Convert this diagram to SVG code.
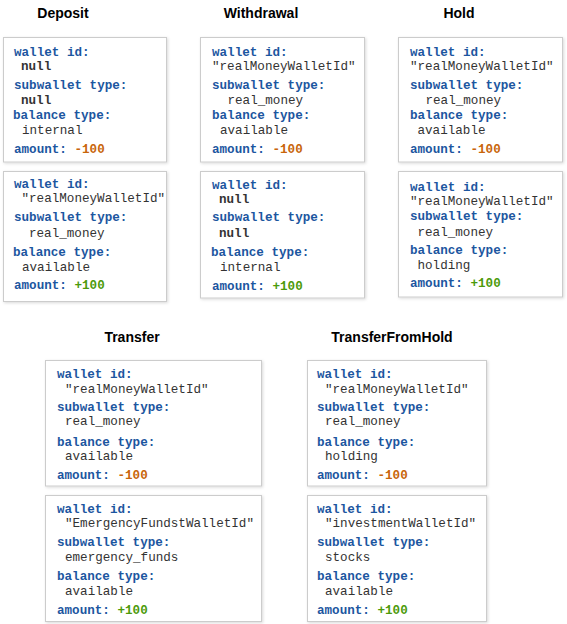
<svg xmlns="http://www.w3.org/2000/svg" width="567" height="624" viewBox="0 0 567 624">
<defs>
<filter id="sh" x="-10%" y="-10%" width="120%" height="120%">
<feDropShadow dx="1" dy="1" stdDeviation="1.5" flood-color="#000" flood-opacity="0.15"/>
</filter>
</defs>
<style>
.t{font-family:"Liberation Sans",Arial,sans-serif;font-weight:bold;font-size:14px;fill:#000;text-anchor:middle}
.box{fill:#fff;stroke:#cccccc;stroke-width:1;filter:url(#sh)}
.k{font-family:"Liberation Mono","Courier New",monospace;font-weight:bold;font-size:12.6px;fill:#1c56a0}
.v{font-family:"Liberation Mono","Courier New",monospace;font-size:12.6px;fill:#333}
.n{font-family:"Liberation Mono","Courier New",monospace;font-weight:bold;font-size:12.6px;fill:#333}
.neg{font-family:"Liberation Mono","Courier New",monospace;font-weight:bold;font-size:12.6px;fill:#c8650a}
.pos{font-family:"Liberation Mono","Courier New",monospace;font-weight:bold;font-size:12.6px;fill:#4c9a0a}
</style>
<g id="titles">
<text class="t" x="63" y="18">Deposit</text>
<text class="t" x="261" y="18">Withdrawal</text>
<text class="t" x="459" y="18">Hold</text>
<text class="t" x="132" y="342">Transfer</text>
<text class="t" x="392" y="342">TransferFromHold</text>
</g>
<g id="deposit-from">
<rect class="box" x="3.5" y="37.5" width="163" height="124.5"/>
<text class="k" x="14" y="55.5">wallet id:</text>
<text class="n" x="21" y="69.5">null</text>
<text class="k" x="14" y="88.5">subwallet type:</text>
<text class="n" x="21" y="103.5">null</text>
<text class="k" x="13" y="118.5">balance type:</text>
<text class="v" x="22" y="133.5">internal</text>
<text class="k" x="14" y="152.5">amount: <tspan class="neg">-100</tspan></text>
</g>
<g id="deposit-to">
<rect class="box" x="3.5" y="171.5" width="163" height="130"/>
<text class="k" x="14" y="187.5">wallet id:</text>
<text class="v" x="21.5" y="201.5">"realMoneyWalletId"</text>
<text class="k" x="14" y="220.5">subwallet type:</text>
<text class="v" x="29" y="236.5">real_money</text>
<text class="k" x="13" y="255.5">balance type:</text>
<text class="v" x="22" y="270.5">available</text>
<text class="k" x="14" y="288.5">amount: <tspan class="pos">+100</tspan></text>
</g>
<g id="withdrawal-from">
<rect class="box" x="200.5" y="37.5" width="164" height="124.5"/>
<text class="k" x="212" y="55.5">wallet id:</text>
<text class="v" x="212" y="69.5">"realMoneyWalletId"</text>
<text class="k" x="212" y="88.5">subwallet type:</text>
<text class="v" x="227.5" y="103.5">real_money</text>
<text class="k" x="212" y="118.5">balance type:</text>
<text class="v" x="220" y="133.5">available</text>
<text class="k" x="212" y="152.5">amount: <tspan class="neg">-100</tspan></text>
</g>
<g id="withdrawal-to">
<rect class="box" x="200.5" y="171.5" width="164" height="126.5"/>
<text class="k" x="212" y="188.5">wallet id:</text>
<text class="n" x="219" y="202.5">null</text>
<text class="k" x="212" y="220.5">subwallet type:</text>
<text class="n" x="219" y="236.5">null</text>
<text class="k" x="211" y="255.5">balance type:</text>
<text class="v" x="220" y="270.5">internal</text>
<text class="k" x="212" y="289.5">amount: <tspan class="pos">+100</tspan></text>
</g>
<g id="hold-from">
<rect class="box" x="398.5" y="37.5" width="164" height="124.5"/>
<text class="k" x="410" y="55.5">wallet id:</text>
<text class="v" x="410" y="69.5">"realMoneyWalletId"</text>
<text class="k" x="410" y="88.5">subwallet type:</text>
<text class="v" x="425.5" y="103.5">real_money</text>
<text class="k" x="410" y="118.5">balance type:</text>
<text class="v" x="417.5" y="133.5">available</text>
<text class="k" x="410" y="152.5">amount: <tspan class="neg">-100</tspan></text>
</g>
<g id="hold-to">
<rect class="box" x="398.5" y="171.5" width="164" height="125.5"/>
<text class="k" x="410" y="190.5">wallet id:</text>
<text class="v" x="410" y="204.5">"realMoneyWalletId"</text>
<text class="k" x="410" y="219.5">subwallet type:</text>
<text class="v" x="417.5" y="235.5">real_money</text>
<text class="k" x="410" y="253.5">balance type:</text>
<text class="v" x="417.5" y="268.5">holding</text>
<text class="k" x="410" y="286.5">amount: <tspan class="pos">+100</tspan></text>
</g>
<g id="transfer-from">
<rect class="box" x="45.5" y="360.5" width="216" height="125.5"/>
<text class="k" x="57" y="377.5">wallet id:</text>
<text class="v" x="65" y="392.5">"realMoneyWalletId"</text>
<text class="k" x="57" y="410.5">subwallet type:</text>
<text class="v" x="65" y="424.5">real_money</text>
<text class="k" x="57" y="445.5">balance type:</text>
<text class="v" x="65" y="459.5">available</text>
<text class="k" x="57" y="478.5">amount: <tspan class="neg">-100</tspan></text>
</g>
<g id="transfer-to">
<rect class="box" x="45.5" y="495.5" width="216" height="126"/>
<text class="k" x="57" y="512.5">wallet id:</text>
<text class="v" x="65" y="526.5">"EmergencyFundstWalletId"</text>
<text class="k" x="57" y="545.5">subwallet type:</text>
<text class="v" x="65" y="560.5">emergency_funds</text>
<text class="k" x="57" y="579.5">balance type:</text>
<text class="v" x="65" y="594.5">available</text>
<text class="k" x="57" y="613.5">amount: <tspan class="pos">+100</tspan></text>
</g>
<g id="transferfromhold-from">
<rect class="box" x="307.5" y="360.5" width="179" height="125.5"/>
<text class="k" x="317" y="377.5">wallet id:</text>
<text class="v" x="325" y="392.5">"realMoneyWalletId"</text>
<text class="k" x="317" y="410.5">subwallet type:</text>
<text class="v" x="325" y="424.5">real_money</text>
<text class="k" x="317" y="445.5">balance type:</text>
<text class="v" x="325" y="459.5">holding</text>
<text class="k" x="317" y="478.5">amount: <tspan class="neg">-100</tspan></text>
</g>
<g id="transferfromhold-to">
<rect class="box" x="307.5" y="495.5" width="179" height="126"/>
<text class="k" x="317" y="512.5">wallet id:</text>
<text class="v" x="325" y="526.5">"investmentWalletId"</text>
<text class="k" x="317" y="545.5">subwallet type:</text>
<text class="v" x="325" y="560.5">stocks</text>
<text class="k" x="317" y="579.5">balance type:</text>
<text class="v" x="325" y="594.5">available</text>
<text class="k" x="317" y="613.5">amount: <tspan class="pos">+100</tspan></text>
</g>
<g id="connectors"/>
</svg>
